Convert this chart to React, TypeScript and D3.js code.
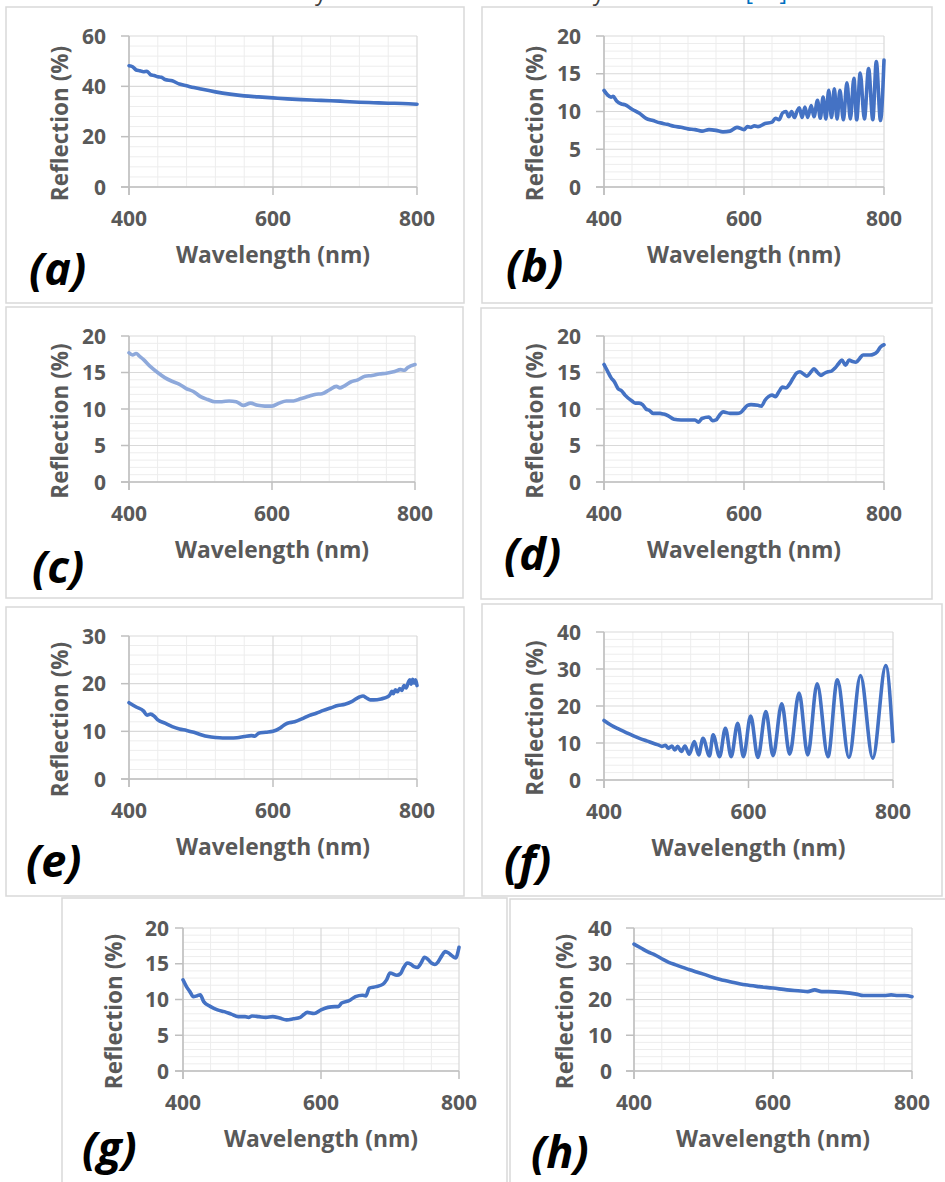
import React from "react";
import * as d3 from "d3";

// ---------- data ----------
const wlA = [400, 405, 410, 415, 420, 425, 430, 435, 440, 445, 450, 460, 470, 480, 490, 500, 520, 540, 560, 580, 600, 620, 640, 660, 680, 700, 720, 740, 760, 780, 800];
const reflA = [48.2, 47.8, 46.5, 46.2, 45.8, 46.0, 44.6, 44.3, 43.8, 43.6, 42.7, 42.2, 40.9, 40.2, 39.5, 38.9, 37.8, 36.9, 36.2, 35.8, 35.4, 35.0, 34.7, 34.5, 34.3, 34.0, 33.7, 33.5, 33.3, 33.2, 32.9];

const wlB = [400, 405, 410, 413, 418, 425, 430, 440, 450, 460, 470, 480, 490, 500, 510, 520, 530, 540, 550, 560, 570, 580, 590, 600, 605, 610, 615, 620, 630, 640, 645, 650, 655, 660, 664, 668, 672, 676, 679, 683, 687, 691, 696, 700, 705, 709, 713, 717, 721, 725, 729, 733, 737, 742, 747, 752, 757, 761, 766, 772, 778, 784, 789, 795, 800];
const reflB = [12.8, 12.2, 11.9, 12.0, 11.4, 11.0, 10.9, 10.3, 9.8, 9.1, 8.8, 8.5, 8.3, 8.05, 7.9, 7.7, 7.6, 7.4, 7.6, 7.5, 7.3, 7.4, 7.9, 7.6, 8.0, 7.9, 8.1, 8.0, 8.4, 8.6, 9.1, 8.9, 9.8, 10.0, 9.3, 10.0, 9.2, 10.1, 10.5, 9.2, 10.6, 9.2, 10.8, 9.3, 11.5, 9.1, 11.9, 9.0, 12.8, 9.2, 13.0, 9.0, 12.8, 8.9, 13.8, 9.0, 14.4, 8.9, 15.1, 9.0, 15.7, 8.9, 16.6, 8.8, 16.8];

const wlC = [400, 405, 410, 415, 420, 430, 440, 450, 460, 470, 480, 490, 500, 510, 520, 530, 540, 550, 560, 570, 580, 590, 600, 610, 620, 630, 640, 650, 660, 670, 680, 690, 695, 700, 710, 720, 730, 740, 750, 760, 770, 780, 785, 790, 800];
const reflC = [17.7, 17.4, 17.6, 17.2, 16.8, 15.8, 15.0, 14.3, 13.8, 13.4, 12.8, 12.4, 11.7, 11.3, 11.0, 11.0, 11.1, 11.0, 10.5, 10.8, 10.5, 10.4, 10.4, 10.8, 11.1, 11.1, 11.4, 11.7, 12.0, 12.1, 12.6, 13.1, 12.9, 13.1, 13.7, 14.0, 14.5, 14.6, 14.8, 14.9, 15.1, 15.4, 15.3, 15.7, 16.1];

const wlD = [400, 405, 410, 415, 420, 425, 430, 440, 445, 450, 455, 460, 465, 470, 480, 485, 490, 500, 510, 520, 530, 535, 540, 550, 555, 560, 565, 570, 580, 590, 595, 600, 605, 610, 620, 625, 630, 635, 640, 645, 650, 655, 660, 665, 670, 675, 680, 685, 690, 695, 700, 705, 710, 715, 720, 725, 730, 735, 740, 745, 750, 755, 760, 765, 770, 780, 785, 790, 795, 800];
const reflD = [16.1, 15.2, 14.3, 13.7, 12.8, 12.5, 11.9, 11.1, 10.8, 10.8, 10.6, 10.0, 9.8, 9.4, 9.4, 9.3, 9.15, 8.6, 8.5, 8.5, 8.5, 8.2, 8.7, 8.9, 8.4, 8.5, 9.15, 9.6, 9.4, 9.4, 9.5, 10.0, 10.5, 10.6, 10.5, 10.4, 11.2, 11.7, 11.9, 11.7, 12.4, 13.0, 12.9, 13.4, 14.2, 14.9, 15.1, 14.8, 14.5, 15.0, 15.5, 15.0, 14.6, 14.9, 15.1, 15.2, 15.6, 16.2, 16.7, 16.0, 16.7, 16.5, 16.4, 16.9, 17.4, 17.4, 17.5, 17.8, 18.5, 18.8];

const wlE = [400, 410, 420, 425, 430, 435, 440, 450, 460, 470, 480, 490, 500, 510, 520, 530, 540, 550, 560, 570, 575, 580, 590, 600, 610, 615, 620, 630, 640, 650, 660, 670, 680, 690, 700, 710, 720, 725, 730, 735, 740, 750, 760, 763, 765, 767, 770, 773, 776, 779, 782, 785, 788, 790, 792, 794, 796, 798, 800];
const reflE = [16.0, 15.1, 14.3, 13.4, 13.6, 13.2, 12.4, 11.7, 11.0, 10.5, 10.2, 9.8, 9.3, 8.9, 8.7, 8.6, 8.6, 8.65, 8.9, 9.1, 9.0, 9.6, 9.8, 10.0, 10.7, 11.3, 11.7, 12.0, 12.6, 13.3, 13.8, 14.4, 14.9, 15.4, 15.7, 16.3, 17.2, 17.4, 17.0, 16.6, 16.6, 16.8, 17.3, 17.8, 18.4, 17.9, 18.7, 18.3, 19.0, 18.6, 19.6, 19.1, 20.3, 20.8, 19.9, 20.9, 20.1, 20.8, 19.6];

const wlF = [400, 410, 420, 430, 440, 450, 460, 470, 475, 480, 485, 489, 494, 498, 502, 507, 512, 518, 525, 531, 537, 546, 551, 560, 568, 576, 585, 593, 603, 613, 624, 634, 646, 657, 670, 682, 695, 710, 723, 739, 755, 772, 790, 800];
const reflF = [16.1, 14.8, 13.8, 12.9, 12.0, 11.2, 10.5, 9.8, 9.5, 9.1, 9.4, 8.6, 9.2, 8.1, 9.1, 7.7, 9.2, 7.0, 10.4, 6.8, 11.3, 6.5, 12.2, 6.3, 14.0, 6.3, 15.3, 6.3, 17.3, 6.1, 18.5, 6.6, 20.6, 7.0, 23.5, 6.8, 26.0, 6.3, 27.1, 6.1, 28.2, 5.9, 30.9, 10.4];

const wlG = [400, 405, 410, 415, 420, 425, 430, 440, 450, 460, 470, 480, 490, 495, 500, 510, 520, 530, 540, 550, 560, 570, 575, 580, 590, 600, 610, 620, 625, 630, 640, 650, 660, 665, 670, 680, 690, 695, 700, 710, 715, 720, 725, 730, 735, 740, 745, 750, 755, 760, 765, 770, 775, 780, 785, 790, 795, 800];
const reflG = [12.75, 11.8, 11.1, 10.4, 10.5, 10.65, 9.7, 9.0, 8.55, 8.3, 7.95, 7.6, 7.6, 7.5, 7.7, 7.6, 7.5, 7.6, 7.4, 7.15, 7.3, 7.5, 7.9, 8.2, 8.05, 8.55, 8.9, 9.0, 9.0, 9.5, 9.8, 10.4, 10.6, 10.5, 11.6, 11.8, 12.15, 12.75, 13.7, 13.4, 13.6, 14.5, 15.1, 14.95, 14.6, 14.5, 15.1, 15.9, 15.6, 15.1, 14.9, 15.3, 16.1, 16.7, 16.5, 16.1, 15.8, 17.3];

const wlH = [400, 410, 420, 430, 440, 450, 460, 470, 480, 490, 500, 520, 540, 560, 580, 600, 620, 640, 650, 660, 670, 680, 700, 720, 730, 740, 760, 770, 780, 790, 800];
const reflH = [35.5, 34.4, 33.3, 32.5, 31.4, 30.4, 29.7, 29.0, 28.3, 27.7, 27.1, 25.8, 24.9, 24.1, 23.6, 23.2, 22.7, 22.4, 22.2, 22.7, 22.2, 22.2, 22.0, 21.5, 21.1, 21.1, 21.1, 21.3, 21.1, 21.1, 20.8];

const xTicks = [400, 600, 800];
const yMaxes = [60, 20, 20, 20, 30, 40, 20, 40];
const yStepsMajor = [20, 5, 5, 5, 10, 10, 5, 10];
const panelLabels = ["(a)", "(b)", "(c)", "(d)", "(e)", "(f)", "(g)", "(h)"];
const xTitle = "Wavelength (nm)";
const yTitle = "Reflection (%)";

// ---------- layout ----------
const series = [
  [wlA, reflA], [wlB, reflB], [wlC, reflC], [wlD, reflD],
  [wlE, reflE], [wlF, reflF], [wlG, reflG], [wlH, reflH],
];
// plot area [left, right, top, bottom], frame [x, y, w, h], label [x, baseline], y-tick label gap
const layout = [
  { plot: [129, 417, 36, 187], frame: [6, 7, 458, 296], lab: [29, 285], gap: 23 },
  { plot: [604, 884, 36, 187], frame: [482, 7, 450, 296], lab: [506, 282], gap: 23 },
  { plot: [129, 415, 336, 482], frame: [6, 307, 457, 291], lab: [32, 583], gap: 23 },
  { plot: [604, 884, 336, 482], frame: [481, 308, 451, 291], lab: [504, 570], gap: 23 },
  { plot: [129, 417, 636, 779], frame: [6, 607, 458, 289], lab: [26, 877], gap: 23 },
  { plot: [604, 893, 632, 780], frame: [482, 604, 460, 292], lab: [504, 878], gap: 23 },
  { plot: [183, 459, 928, 1071], frame: [62, 898, 445, 300], lab: [82, 1164], gap: 14 },
  { plot: [634, 912, 928, 1071], frame: [510, 899, 445, 300], lab: [531, 1168], gap: 22 },
];
const lineColors = ["#4472C4", "#4472C4", "#8EA9DB", "#4472C4", "#4472C4", "#4472C4", "#4472C4", "#4472C4"];

const FONT = "'Open Sans', 'DejaVu Sans', sans-serif";
const GRAY = "#595959";

function Panel({ i }: { i: number }) {
  const L = layout[i];
  const [x0, x1, y0, y1] = L.plot;
  const yMax = yMaxes[i];
  const step = yStepsMajor[i];
  const x = d3.scaleLinear().domain([400, 800]).range([x0, x1]);
  const y = d3.scaleLinear().domain([0, yMax]).range([y1, y0]);
  const yMajor = d3.range(0, yMax + 0.001, step);
  const yMinor = d3.range(0, yMax + 0.001, step / 5).filter((v) => !yMajor.some((m) => Math.abs(m - v) < 1e-6));
  const xMinor = d3.range(400, 801, 40).filter((v) => !xTicks.includes(v));
  const [wl, refl] = series[i];
  const pts = wl.map((w, k) => [w, refl[k]] as [number, number]);
  const line = d3.line<[number, number]>().x((d) => x(d[0])).y((d) => y(d[1])).curve(d3.curveMonotoneX);
  const [fx, fy, fw, fh] = L.frame;
  const cx = (x0 + x1) / 2;
  const cy = (y0 + y1) / 2 + 12;
  return (
    <g>
      <rect x={fx} y={fy} width={fw} height={fh} fill="#fff" stroke="#d9d9d9" strokeWidth={1.5} />
      {yMinor.map((v) => (
        <line key={"ym" + v} x1={x0} x2={x1} y1={y(v)} y2={y(v)} stroke="#ededed" strokeWidth={1} />
      ))}
      {xMinor.map((v) => (
        <line key={"xm" + v} x1={x(v)} x2={x(v)} y1={y0} y2={y1} stroke="#ededed" strokeWidth={1} />
      ))}
      {yMajor.map((v) => (
        <line key={"yM" + v} x1={x0} x2={x1} y1={y(v)} y2={y(v)} stroke="#d9d9d9" strokeWidth={1.2} />
      ))}
      {xTicks.map((v) => (
        <line key={"xM" + v} x1={x(v)} x2={x(v)} y1={y0} y2={y1} stroke="#d9d9d9" strokeWidth={1.2} />
      ))}
      {/* axes */}
      <line x1={x0} x2={x0} y1={y0} y2={y1 + 8} stroke="#bfbfbf" strokeWidth={1.5} />
      <line x1={x0 - 8} x2={x1} y1={y1} y2={y1} stroke="#bfbfbf" strokeWidth={1.5} />
      {yMajor.map((v) => (
        <line key={"yt" + v} x1={x0 - 8} x2={x0} y1={y(v)} y2={y(v)} stroke="#bfbfbf" strokeWidth={1.5} />
      ))}
      {xTicks.map((v) => (
        <line key={"xt" + v} x1={x(v)} x2={x(v)} y1={y1} y2={y1 + 8} stroke="#bfbfbf" strokeWidth={1.5} />
      ))}
      {yMajor.map((v) => (
        <text key={"yl" + v} x={x0 - L.gap} y={y(v) + 7.5} textAnchor="end" fontFamily={FONT} fontWeight={700} fontSize={21} fill={GRAY}>
          {v}
        </text>
      ))}
      {xTicks.map((v) => (
        <text key={"xl" + v} x={x(v)} y={y1 + 39} textAnchor="middle" fontFamily={FONT} fontWeight={700} fontSize={21} fill={GRAY}>
          {v}
        </text>
      ))}
      <path d={line(pts) || ""} fill="none" stroke={lineColors[i]} strokeWidth={3.6} strokeLinejoin="round" strokeLinecap="round" />
      <text x={cx} y={y1 + 76} textAnchor="middle" fontFamily={FONT} fontWeight={700} fontSize={22.8} fill={GRAY}>
        {xTitle}
      </text>
      <text transform={`translate(${x0 - 61},${cy}) rotate(-90)`} textAnchor="middle" fontFamily={FONT} fontWeight={700} fontSize={22.5} fill={GRAY}>
        {yTitle}
      </text>
      <text x={L.lab[0]} y={L.lab[1]} fontFamily={FONT} fontWeight={700} fontStyle="italic" fontSize={45} fill="#000">
        {panelLabels[i]}
      </text>
    </g>
  );
}

export default function App() {
  return (
    <svg width={945} height={1182} style={{ position: "absolute", left: 0, top: 0, display: "block", background: "#fff" }}>
      <rect x={0} y={0} width={945} height={1182} fill="#fff" />
      <text x={793} y={-0.5} textAnchor="end" fontFamily={FONT} fontSize={23} fill="#404040">
        wave curve which may be attributed to a thin layer formation <tspan fill="#0070C0">[19]</tspan>.
      </text>
      {layout.map((_, i) => (
        <Panel key={i} i={i} />
      ))}
    </svg>
  );
}
